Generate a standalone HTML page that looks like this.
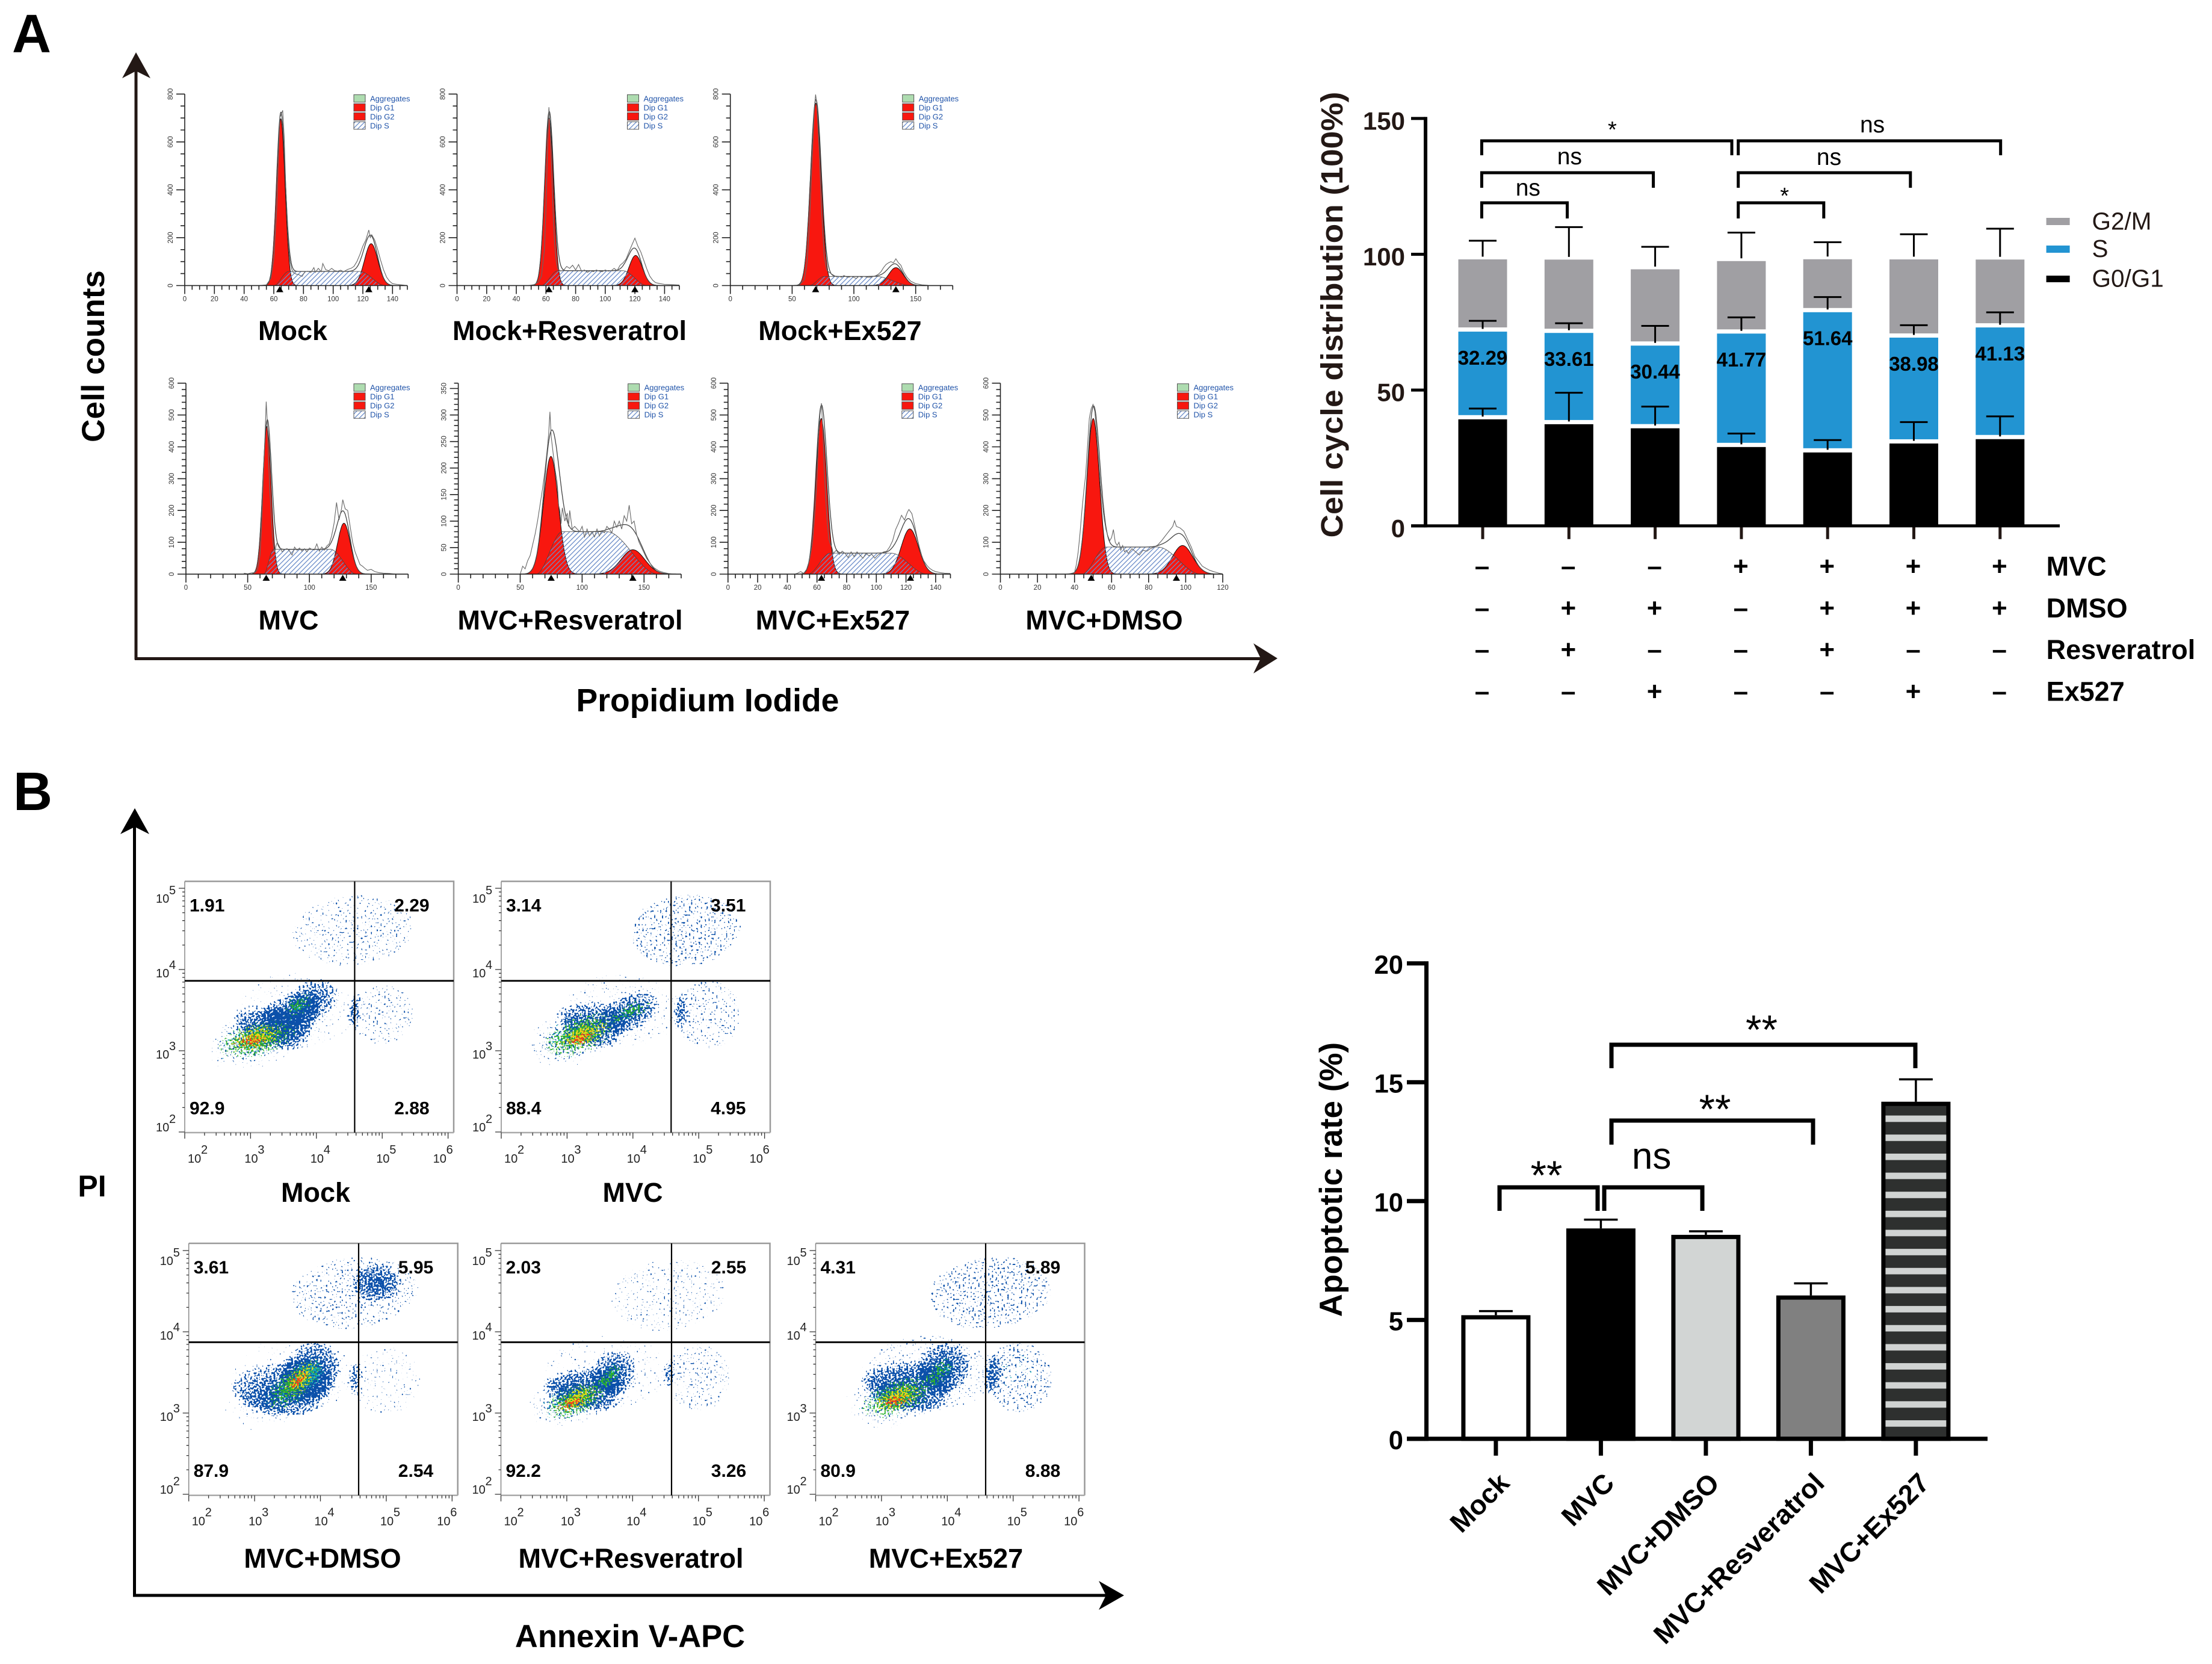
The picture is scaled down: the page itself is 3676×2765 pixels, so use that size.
<!DOCTYPE html>
<html lang="en">
<head>
<meta charset="utf-8">
<title>Cell cycle and apoptosis figure</title>
<style>
html,body{margin:0;padding:0;background:#fff}
svg{display:block;font-family:"Liberation Sans",sans-serif}
</style>
</head>
<body>
<svg id="figure" xmlns="http://www.w3.org/2000/svg" width="3676" height="2765" viewBox="0 0 3676 2765">
<defs>
  <pattern id="hatch" patternUnits="userSpaceOnUse" width="5.6" height="5.6" patternTransform="rotate(45)">
    <rect x="0" y="0" width="1.3" height="5.6" fill="#6a8cc8"/>
  </pattern>
  <pattern id="stripes" patternUnits="userSpaceOnUse" x="0" y="1853.6" width="20" height="31.65">
    <rect x="0" y="0" width="20" height="31.65" fill="#2e302f"/>
    <rect x="0" y="0" width="20" height="10.7" fill="#d0d3d2"/>
  </pattern>
  <radialGradient id="soft"><stop offset="0" stop-color="#000" stop-opacity="1"/><stop offset=".5" stop-color="#000" stop-opacity=".68"/><stop offset=".8" stop-color="#000" stop-opacity=".5"/><stop offset="1" stop-color="#000" stop-opacity="0"/></radialGradient>
  <radialGradient id="flat"><stop offset="0" stop-color="#000" stop-opacity="1"/><stop offset=".85" stop-color="#000" stop-opacity=".95"/><stop offset="1" stop-color="#000" stop-opacity="0"/></radialGradient>
  <filter id="speck-blue" x="-5%" y="-5%" width="110%" height="110%" color-interpolation-filters="sRGB">
    <feTurbulence type="fractalNoise" baseFrequency="0.31" numOctaves="1" seed="4" result="n"/>
    <feColorMatrix in="n" type="matrix" values="0 0 0 0 0 0 0 0 0 0 0 0 0 0 0 1 0 0 0 0" result="na"/>
    <feComposite in="SourceAlpha" in2="na" operator="arithmetic" k1="0" k2="1" k3="1" k4="-1" result="s"/>
    <feComponentTransfer in="s" result="m"><feFuncA type="linear" slope="20"/></feComponentTransfer>
    <feFlood flood-color="#0b50aa"/><feComposite in2="m" operator="in"/>
  </filter>
  <filter id="speck-cyan" x="-5%" y="-5%" width="110%" height="110%" color-interpolation-filters="sRGB">
    <feTurbulence type="fractalNoise" baseFrequency="0.33" numOctaves="1" seed="11" result="n"/>
    <feColorMatrix in="n" type="matrix" values="0 0 0 0 0 0 0 0 0 0 0 0 0 0 0 1 0 0 0 0" result="na"/>
    <feComposite in="SourceAlpha" in2="na" operator="arithmetic" k1="0" k2="1" k3="1" k4="-1" result="s"/>
    <feComponentTransfer in="s" result="m"><feFuncA type="linear" slope="20"/></feComponentTransfer>
    <feFlood flood-color="#14adb4"/><feComposite in2="m" operator="in"/>
  </filter>
  <filter id="speck-green" x="-5%" y="-5%" width="110%" height="110%" color-interpolation-filters="sRGB">
    <feTurbulence type="fractalNoise" baseFrequency="0.33" numOctaves="1" seed="23" result="n"/>
    <feColorMatrix in="n" type="matrix" values="0 0 0 0 0 0 0 0 0 0 0 0 0 0 0 1 0 0 0 0" result="na"/>
    <feComposite in="SourceAlpha" in2="na" operator="arithmetic" k1="0" k2="1" k3="1" k4="-1" result="s"/>
    <feComponentTransfer in="s" result="m"><feFuncA type="linear" slope="20"/></feComponentTransfer>
    <feFlood flood-color="#2cb22c"/><feComposite in2="m" operator="in"/>
  </filter>
  <filter id="speck-yellow" x="-5%" y="-5%" width="110%" height="110%" color-interpolation-filters="sRGB">
    <feTurbulence type="fractalNoise" baseFrequency="0.33" numOctaves="1" seed="37" result="n"/>
    <feColorMatrix in="n" type="matrix" values="0 0 0 0 0 0 0 0 0 0 0 0 0 0 0 1 0 0 0 0" result="na"/>
    <feComposite in="SourceAlpha" in2="na" operator="arithmetic" k1="0" k2="1" k3="1" k4="-1" result="s"/>
    <feComponentTransfer in="s" result="m"><feFuncA type="linear" slope="20"/></feComponentTransfer>
    <feFlood flood-color="#e6d818"/><feComposite in2="m" operator="in"/>
  </filter>
  <filter id="speck-red" x="-10%" y="-10%" width="120%" height="120%" color-interpolation-filters="sRGB">
    <feTurbulence type="fractalNoise" baseFrequency="0.33" numOctaves="1" seed="51" result="n"/>
    <feColorMatrix in="n" type="matrix" values="0 0 0 0 0 0 0 0 0 0 0 0 0 0 0 1 0 0 0 0" result="na"/>
    <feComposite in="SourceAlpha" in2="na" operator="arithmetic" k1="0" k2="1" k3="1" k4="-1" result="s"/>
    <feComponentTransfer in="s" result="m"><feFuncA type="linear" slope="20"/></feComponentTransfer>
    <feFlood flood-color="#f0401c"/><feComposite in2="m" operator="in"/>
  </filter>
</defs>

<rect x="0" y="0" width="3676" height="2765" fill="#fff"/>

<g id="static-labels" fill="#000" font-weight="700">
  <text x="20" y="87" font-size="90">A</text>
  <text x="22" y="1346" font-size="90">B</text>
  <text transform="translate(173 592) rotate(-90)" text-anchor="middle" font-size="53">Cell counts</text>
  <text x="1176" y="1182" text-anchor="middle" font-size="53.5">Propidium Iodide</text>
  <text x="153" y="1988" text-anchor="middle" font-size="50">PI</text>
  <text x="1047" y="2737" text-anchor="middle" font-size="52.5">Annexin V-APC</text>
  <g font-size="45" text-anchor="middle">
    <text x="486.5" y="565">Mock</text>
    <text x="946.5" y="565">Mock+Resveratrol</text>
    <text x="1396" y="565">Mock+Ex527</text>
    <text x="479.5" y="1046">MVC</text>
    <text x="947.5" y="1046">MVC+Resveratrol</text>
    <text x="1384" y="1046">MVC+Ex527</text>
    <text x="1835" y="1046">MVC+DMSO</text>
    <text x="524.5" y="1997">Mock</text>
    <text x="1051.5" y="1997">MVC</text>
    <text x="536" y="2605">MVC+DMSO</text>
    <text x="1048.5" y="2605">MVC+Resveratrol</text>
    <text x="1572" y="2605">MVC+Ex527</text>
  </g>
</g>

<g id="arrows" fill="#231815" stroke="none">
  <rect x="223.5" y="110" width="5" height="986"/>
  <path d="M226 87L250 130L226 118L203 130Z"/>
  <rect x="224" y="1092" width="1871" height="5"/>
  <path d="M2123 1094L2083 1069L2095 1094L2083 1119Z"/>
  <rect x="221" y="1373" width="5" height="1280" fill="#000"/>
  <path d="M224 1343L248 1386L224 1374L200 1386Z" fill="#000"/>
  <rect x="221" y="2648.5" width="1620" height="5" fill="#000"/>
  <path d="M1868 2651L1826 2627L1838 2651L1826 2675Z" fill="#000"/>
</g>

<g id="hist-root"></g>
<g id="flow-root"></g>
<g id="cycle-root">
  <text transform="translate(2231 523) rotate(-90)" text-anchor="middle" font-size="51" font-weight="700" fill="#231815" textLength="741" lengthAdjust="spacingAndGlyphs">Cell cycle distribution (100%)</text>
  <g fill="none" stroke="#000" stroke-width="5">
    <path d="M2462.4 258V234H2878V258"/>
    <path d="M2888.7 258V234H3324.7V258"/>
    <path d="M2462.4 312V287H2747.6V312"/>
    <path d="M2888.7 312V287H3174.8V312"/>
    <path d="M2462.4 363V337H2604.5V363"/>
    <path d="M2888.7 363V337H3030.8V363"/>
  </g>
  <g font-size="39" text-anchor="middle" fill="#000">
    <text x="2679.4" y="228" font-size="38">*</text>
    <text x="3111.6" y="220">ns</text>
    <text x="2608.4" y="273">ns</text>
    <text x="3039.5" y="274">ns</text>
    <text x="2539.3" y="325">ns</text>
    <text x="2965.6" y="338" font-size="38">*</text>
  </g>
  <g>
    <rect x="3400.6" y="362" width="39" height="12" fill="#a09fa3"/>
    <rect x="3400.6" y="408" width="39" height="12" fill="#2294d2"/>
    <rect x="3400.6" y="458" width="39" height="11" fill="#000"/>
    <g font-size="40.5" fill="#231815" dominant-baseline="central">
      <text x="3476.5" y="367.6">G2/M</text>
      <text x="3476.5" y="413">S</text>
      <text x="3476.5" y="462.6">G0/G1</text>
    </g>
  </g>
</g>
<g id="apop-root">
  <text transform="translate(2230 1960) rotate(-90)" text-anchor="middle" font-size="53" font-weight="700" fill="#000">Apoptotic rate (%)</text>
</g>
<g id="apop-annotations">
  <g fill="none" stroke="#000" stroke-width="7">
    <path d="M2678 1775V1736H3183V1775"/>
    <path d="M2678 1902V1862H3013V1902"/>
    <path d="M2492 2012V1973H2655V2012"/>
    <path d="M2666 2012V1973H2829V2012"/>
  </g>
  <g text-anchor="middle" fill="#000" font-size="68">
    <text x="2927.5" y="1734">**</text>
    <text x="2850" y="1866">**</text>
    <text x="2570" y="1976">**</text>
    <text x="2744.6" y="1942" font-size="62">ns</text>
  </g>
</g>
</svg>

<script>
// ---------- Panel A right: stacked bars ----------
const cycleGroups = ['Mock','Mock+Resveratrol','Mock+Ex527','MVC','MVC+Resveratrol','MVC+Ex527','MVC+DMSO'];
const g0g1Values = [40, 38.2, 36.7, 29.8, 27.8, 31.1, 32.7];
const sValues = [32.29, 33.61, 30.44, 41.77, 51.64, 38.98, 41.13];
const g2Values = [26.6, 27, 28.1, 26.7, 19.5, 28.8, 25];
const g0g1Err = [3.2, 10.8, 7.2, 4.2, 3.8, 7.1, 7.6];
const sErr = [3.2, 2.8, 6.5, 5.2, 4.8, 3.8, 4.8];
const g2Err = [6.1, 11.2, 7.5, 9.7, 5.5, 8.5, 10.6];
const cycleTicks = [0, 50, 100, 150];
const rowNames = ['MVC','DMSO','Resveratrol','Ex527'];
const rowMVC = ['–','–','–','+','+','+','+'];
const rowDMSO = ['–','+','+','–','+','+','+'];
const rowResveratrol = ['–','+','–','–','+','–','–'];
const rowEx527 = ['–','–','+','–','–','+','–'];

// ---------- Panel B right: apoptotic rate ----------
const apopCategories = ['Mock','MVC','MVC+DMSO','MVC+Resveratrol','MVC+Ex527'];
const apopValues = [5.2, 8.85, 8.58, 6.03, 14.18];
const apopErr = [0.17, 0.37, 0.15, 0.51, 0.94];
const apopTicks = [0, 5, 10, 15, 20];

// ---------- Panel A left: DNA histograms (read from the peaks) ----------
const histXMax = [150,150,180,180,180,150,120];
const histYMax = [800,800,800,600,360,600,600];
const histXLabelStep = [20,20,50,50,50,20,20];
const histXMinorStep = [5,5,10,10,10,5,5];
const histYLabelStep = [200,200,200,100,50,100,100];
const histYMinorStep = [50,50,50,20,10,20,20];
const g1Mean = [64.7,62.1,69.2,65.6,74.8,62.9,50.1];
const g1Height = [697,700,762,464,222,489,489];
const g1Sd = [2.9,3,4.3,3.4,6,3.7,3.4];
const g2Mean = [125.6,120.5,134,128,141,122.6,98.3];
const g2Height = [175,126,75,160,46,142,90];
const g2Sd = [4.5,4.5,6,5.2,9.5,5.8,5.5];
const sPlateau = [59,62,38,78,80,66,85];
const sRiseStart = [60,57,64,63,63,54,44];
const sRiseEnd = [70,68,76,71,84,69,57];
const sFallStart = [118,112,118,117,120,110,85];
const sFallEnd = [135,128,146,138,161,134,108];
const g1Marker = [64,62,69,65,75,63,49];
const g2Marker = [124,120,134,127,141,123,95];
const rawMock = [50,0,55,3,58,30,60,110,62,320,63,520,64,700,65,715,66,732,67,620,68,430,69,280,70,160,71,100,72,70,73,55,75,48,77,45,79,38,81,58,83,60,85,55,87,75,88,55,90,72,92,58,93,92,95,66,97,62,99,72,101,62,103,60,105,64,107,58,110,68,112,72,114,80,116,100,118,130,120,165,122,190,124,232,125,200,126,212,128,190,130,150,132,105,134,65,136,35,138,18,140,8,143,5,146,3,150,0];
const rawMockRes = [48,0,52,4,55,15,57,40,59,150,60,320,61,560,62,745,63,640,64,450,65,280,66,160,67,100,68,70,70,60,72,65,74,80,76,72,78,85,80,65,82,88,84,60,86,65,88,55,90,62,92,58,94,65,96,60,98,58,100,65,102,60,104,62,106,72,108,62,110,85,112,95,114,110,116,140,118,170,120,198,122,165,124,140,126,105,128,70,130,40,132,22,134,12,137,8,140,5,145,4,150,2];
const rawMockEx = [52,0,56,3,60,25,62,90,64,250,66,500,68,740,69,798,70,760,72,560,74,300,76,120,78,65,80,55,82,48,84,42,86,36,88,38,90,35,92,42,94,36,96,35,98,38,100,34,102,30,104,38,106,35,108,38,110,36,112,34,114,35,116,38,118,42,120,48,122,58,124,75,126,88,128,95,130,100,132,95,134,112,136,95,138,85,140,60,143,35,146,18,150,8,155,3,160,1];
const rawMVC = [47,3,50,1,53,4,56,5,58,15,60,60,61,130,62,230,63,340,64,430,65,542,66,470,67,350,68,260,69,190,70,120,71,85,72,70,73,90,74,100,76,85,78,70,80,78,82,80,84,72,86,60,88,85,90,75,92,82,94,72,96,80,98,70,100,82,102,78,104,76,106,95,108,72,110,85,112,75,114,88,116,95,118,120,120,160,122,225,124,170,126,205,127,234,129,205,131,200,133,150,135,100,137,70,139,50,141,30,143,25,145,18,147,12,150,15,153,8,156,5,160,3,165,2,170,0];
const rawMVCRes = [50,0,52,15,54,10,56,25,58,35,60,55,62,75,64,100,66,130,68,160,70,195,72,240,73,265,74,306,75,260,76,240,78,200,80,170,81,130,82,120,83,95,84,125,86,100,88,115,89,90,90,120,92,85,94,90,96,85,98,80,100,90,102,70,104,85,106,72,108,80,110,70,112,85,114,72,116,82,118,78,120,90,122,85,124,78,126,100,128,88,130,100,132,85,134,110,136,100,138,130,140,95,142,100,144,75,146,60,148,50,150,40,152,30,155,20,158,12,162,6,166,3,170,1,175,0];
const rawMVCEx = [45,0,47,3,49,8,51,2,53,15,55,45,57,100,59,220,60,300,61,420,62,500,63,537,64,450,65,320,66,230,67,160,68,110,69,95,70,85,71,65,73,75,75,62,77,72,79,65,81,52,83,70,85,55,87,70,89,60,91,50,93,65,95,58,97,62,99,50,101,60,103,65,105,70,107,72,109,85,111,105,113,140,115,160,117,185,119,170,121,195,122,203,124,190,126,150,128,105,130,65,132,42,134,28,136,18,138,12,140,8,143,5,146,3,150,2];
const rawMVCDmso = [36,0,38,2,40,5,41,30,42,70,43,130,44,200,45,260,46,310,47,400,48,490,49,520,50,533,51,510,52,440,53,360,54,280,55,220,56,175,57,140,58,120,59,105,60,115,61,140,62,100,63,90,64,100,65,75,66,90,67,70,68,75,69,65,71,80,73,70,75,60,77,75,79,72,81,80,83,85,85,92,87,105,89,120,91,135,93,150,94,168,95,150,97,145,99,135,101,110,103,85,105,55,107,40,109,25,111,18,113,12,115,8,118,3,120,1];
const legendEntries = ['Aggregates','Dip G1','Dip G2','Dip S'];

// ---------- Panel B left: flow plots (density regions in log10 units: x, y, rx, ry, tilt, level) ----------
const flowUL = ['1.91','3.14','3.61','2.03','4.31'];
const flowUR = ['2.29','3.51','5.95','2.55','5.89'];
const flowLL = ['92.9','88.4','87.9','92.2','80.9'];
const flowLR = ['2.88','4.95','2.54','3.26','8.88'];
const flowBlue = [
 [[3.05,3.13,.95,.42,-14,.54],[3.6,3.42,.5,.3,-25,.44],[3.95,3.62,.42,.26,-30,.44],[3.7,3.5,1.05,.52,0,.31],[5,3.45,.55,.42,0,.35],[4.55,4.48,1.05,.5,-6,.35]],
 [[3.1,3.17,.88,.42,-20,.54],[3.95,3.47,.5,.24,-25,.46],[3.85,3.5,1.05,.52,0,.31],[5.15,3.45,.55,.48,0,.36],[4.8,4.48,.95,.5,-6,.385]],
 [[3.3,3.2,.98,.45,-18,.48],[3.85,3.5,.55,.36,-50,.54],[3.6,3.45,1.1,.52,0,.3],[5,3.4,.6,.48,0,.32],[4.5,4.48,1.1,.5,-6,.37],[4.85,4.6,.4,.25,0,.42]],
 [[3.1,3.17,.85,.38,-15,.56],[3.72,3.5,.38,.28,-40,.46],[3.6,3.5,1.1,.5,0,.31],[5,3.45,.55,.48,0,.35],[4.55,4.45,1,.5,-6,.335]],
 [[3.2,3.2,.95,.44,-15,.53],[3.95,3.55,.45,.33,-40,.46],[3.75,3.5,1.15,.52,0,.34],[5.1,3.45,.55,.5,0,.39],[4.65,4.48,1.05,.5,-6,.39]]
];
const flowCyan = [
 [[3.05,3.13,.78,.3,-14,.5],[3.75,3.55,.38,.18,-30,.46]],
 [[3.1,3.17,.72,.3,-20,.5],[3.95,3.47,.4,.16,-25,.46]],
 [[3.55,3.3,.6,.28,-35,.5],[3.9,3.55,.36,.22,-50,.46]],
 [[3.1,3.15,.66,.28,-20,.5],[3.7,3.5,.3,.17,-40,.46]],
 [[3.2,3.2,.76,.3,-18,.5],[3.95,3.55,.34,.22,-40,.46],[5,3.5,.5,.3,0,.29]]
];
const flowGreen = [
 [[3.1,3.14,.74,.26,-14,.66],[3.72,3.56,.32,.15,-35,.58]],
 [[3.2,3.2,.72,.28,-22,.66],[4,3.5,.36,.13,-25,.58]],
 [[3.6,3.35,.62,.23,-40,.66]],
 [[3.15,3.17,.64,.24,-25,.66],[3.68,3.48,.24,.12,-45,.58]],
 [[3.25,3.2,.72,.26,-20,.66],[3.9,3.52,.28,.15,-45,.58]]
];
const flowYellow = [
 [[3.1,3.16,.56,.2,-14,.62]],
 [[3.25,3.2,.54,.2,-22,.62]],
 [[3.7,3.42,.48,.18,-45,.62]],
 [[3.15,3.17,.48,.18,-25,.62]],
 [[3.25,3.2,.56,.2,-20,.62]]
];
const flowRed = [
 [[3.02,3.12,.34,.11,-10,.6]],
 [[3.2,3.15,.32,.11,-20,.6]],
 [[3.65,3.4,.3,.1,-50,.6]],
 [[3.08,3.12,.3,.1,-20,.6]],
 [[3.2,3.15,.32,.11,-15,.6]]
];
const flowXDecades = [2,3,4,5,6];
const flowYDecades = [2,3,4,5];

// ---------- Layout (pixels, not data) ----------
const histLayout = [
 {left:307,   w:370,   base:474.5, top:156.3, legend:281},
 {left:759.5, w:369.5, base:474.5, top:156.3, legend:283},
 {left:1213.7,w:369.6, base:474.5, top:156.3, legend:286},
 {left:309,   w:369.3, base:954,   top:636.7, legend:279},
 {left:761.6, w:370.4, base:954,   top:636.7, legend:282},
 {left:1209.8,w:369.7, base:954,   top:636.7, legend:289},
 {left:1662.5,w:369.5, base:954,   top:636.7, legend:294}
];
const flowLayout = [
 {x0:307,    gate:589.4,  top:1464.5, bottom:1882,   hGate:1629.8, y100:1881},
 {x0:833,    gate:1115.3, top:1464.5, bottom:1882,   hGate:1629.8, y100:1881},
 {x0:313.7,  gate:596,    top:2066,   bottom:2484.7, hGate:2230.3, y100:2483},
 {x0:832.5,  gate:1116,   top:2066,   bottom:2484.7, hGate:2230.3, y100:2483},
 {x0:1355.5, gate:1638,   top:2066,   bottom:2484.7, hGate:2230.3, y100:2483}
];

const NS = 'http://www.w3.org/2000/svg';
function make(tag, attrs, parent) {
  const el = document.createElementNS(NS, tag);
  for (const k in attrs) el.setAttribute(k, attrs[k]);
  parent.appendChild(el);
  return el;
}
function write(parent, x, y, str, attrs) {
  const el = make('text', Object.assign({x: x, y: y}, attrs || {}), parent);
  el.textContent = str;
  return el;
}

// ===== Stacked bars =====
(function () {
  const root = document.getElementById('cycle-root');
  const yA = v => 873.8 - v * 4.513;
  const xA = i => 2464 + i * 143.3;
  const barW = 81, gap = 3.5;
  const axisTop = yA(cycleTicks[cycleTicks.length - 1]);
  const axisBase = yA(0);

  cycleGroups.forEach((group, i) => {
    const c1 = g0g1Values[i], c2 = c1 + sValues[i], c3 = c2 + g2Values[i];
    const x = xA(i) - barW / 2;
    const black = make('rect', {x: x, y: yA(c1) + gap, width: barW, height: axisBase - yA(c1) - gap, fill: '#000'}, root);
    
    
    const blue = make('rect', {x: x, y: yA(c2) + gap, width: barW, height: yA(c1) - yA(c2) - 2 * gap, fill: '#2294d2'}, root);
    
    
    const gray = make('rect', {x: x, y: yA(c3) + gap, width: barW, height: yA(c2) - yA(c3) - 2 * gap, fill: '#a09fa3'}, root);
    
    
  });
  cycleGroups.forEach((group, i) => {
    const c1 = g0g1Values[i], c2 = c1 + sValues[i], c3 = c2 + g2Values[i];
    const cx = xA(i);
    const stems = [[c1, g0g1Err[i]], [c2, sErr[i]], [c3, g2Err[i]]];
    stems.forEach(pair => {
      const yb = yA(pair[0]) - 1, yt = yA(pair[0] + pair[1]);
      const eb = make('path', {d: 'M' + cx + ' ' + yb + 'V' + yt + 'M' + (cx - 23) + ' ' + yt + 'H' + (cx + 23), fill: 'none', stroke: '#000', 'stroke-width': 3}, root);
      
      
    });
    const label = write(root, cx, yA(c2 - 10.4), sValues[i].toFixed(2), {'text-anchor': 'middle', 'dominant-baseline': 'central', 'font-size': 33, 'font-weight': 700, fill: '#000'});
    
    
    const xTick = make('rect', {x: cx - 2.5, y: axisBase, width: 5, height: 22, fill: '#231815'}, root);
    
    
  });
  const yLine = make('rect', {x: 2366, y: axisTop - 2.5, width: 6, height: axisBase - axisTop + 5, fill: '#000'}, root);
  
  
  const xLine = make('rect', {x: 2345, y: axisBase - 2.5, width: 1078, height: 5, fill: '#000'}, root);
  
  
  cycleTicks.forEach(t => {
    const tk = make('rect', {x: 2345, y: yA(t) - 2.5, width: 24, height: 5, fill: '#000'}, root);
    
    
    const lb = write(root, 2335, yA(t) + 4, String(t), {'text-anchor': 'end', 'dominant-baseline': 'central', 'font-size': 42, 'font-weight': 700, fill: '#231815'});
    
    
  });
  const rows = [rowMVC, rowDMSO, rowResveratrol, rowEx527];
  const rowY = r => 941 + r * 69.3;
  rows.forEach((row, r) => {
    row.forEach((sym, i) => {
      const s = write(root, xA(i) - 1, rowY(r), sym, {'text-anchor': 'middle', 'dominant-baseline': 'central', 'font-size': 44, 'font-weight': 700, fill: '#000'});
      
      
    });
    const nm = write(root, 3400.6, rowY(r), rowNames[r], {'dominant-baseline': 'central', 'font-size': 45, 'font-weight': 700, fill: '#000'});
    
    
  });
})();

// ===== Apoptotic rate bars =====
(function () {
  const root = document.getElementById('apop-root');
  const yB = v => 2390.8 - v * 39.5;
  const xB = i => 2485.9 + i * 174.5;
  const fills = ['#ffffff', '#000000', '#d2d5d4', '#808080', 'url(#stripes)'];
  const base = yB(0), topY = yB(apopTicks[apopTicks.length - 1]);
  apopValues.forEach((v, i) => {
    const cx = xB(i);
    const yt = yB(v);
    const capY = yB(v + apopErr[i]);
    const eb = make('path', {d: 'M' + cx + ' ' + yt + 'V' + capY + 'M' + (cx - 28) + ' ' + capY + 'H' + (cx + 28), fill: 'none', stroke: '#000', 'stroke-width': 3.5}, root);
    
    
    const bar = make('rect', {x: cx - 54, y: yt + 3.5, width: 108, height: base - yt - 3.5, fill: fills[i], stroke: '#000', 'stroke-width': 7}, root);
    
    
    const tk = make('rect', {x: cx - 3.5, y: base, width: 7, height: 28, fill: '#000'}, root);
    
    
    const lb = write(root, 0, 0, apopCategories[i], {transform: 'translate(' + (cx + 25) + ' 2467) rotate(-45)', 'text-anchor': 'end', 'font-size': 45.5, 'font-weight': 700, fill: '#000'});
    
    
  });
  const yLine = make('rect', {x: 2367, y: topY - 3.5, width: 7, height: base - topY + 7, fill: '#000'}, root);
  
  
  const xLine = make('rect', {x: 2338, y: base - 3.5, width: 965, height: 7, fill: '#000'}, root);
  
  
  apopTicks.forEach(t => {
    const tk = make('rect', {x: 2338, y: yB(t) - 3.5, width: 30, height: 7, fill: '#000'}, root);
    
    
    const lb = write(root, 2332, yB(t) + 3, String(t), {'text-anchor': 'end', 'dominant-baseline': 'central', 'font-size': 43.5, 'font-weight': 700, fill: '#000'});
    
    
  });
})();

// ===== Histograms =====
(function () {
  const root = document.getElementById('hist-root');
  const rawTraces = [rawMock, rawMockRes, rawMockEx, rawMVC, rawMVCRes, rawMVCEx, rawMVCDmso];
  const ramp = (x, a, b) => { const t = Math.max(0, Math.min(1, (x - a) / (b - a))); return t * t * (3 - 2 * t); };
  histLayout.forEach((L, p) => {
    const g = make('g', {}, root);
    
    
    const X = v => L.left + v / histXMax[p] * L.w;
    const Y = v => L.base - v * (L.base - L.top) / histYMax[p];
    const g1 = x => g1Height[p] * Math.exp(-0.5 * Math.pow((x - g1Mean[p]) / g1Sd[p], 2));
    const g2 = x => g2Height[p] * Math.exp(-0.5 * Math.pow((x - g2Mean[p]) / g2Sd[p], 2));
    const sp = x => sPlateau[p] * ramp(x, sRiseStart[p], sRiseEnd[p]) * (1 - ramp(x, sFallStart[p], sFallEnd[p]));
    const curve = (fn, closed) => {
      let d = '';
      for (let x = 0; x <= histXMax[p]; x += 0.25) d += (d ? 'L' : 'M') + X(x).toFixed(1) + ' ' + Y(fn(x)).toFixed(1);
      return closed ? d + 'L' + X(histXMax[p]) + ' ' + L.base + 'L' + X(0) + ' ' + L.base + 'Z' : d;
    };
    const redA = make('path', {d: curve(g1, true), fill: '#f8170f', stroke: '#111', 'stroke-width': 1}, g);
    
    
    const redB = make('path', {d: curve(g2, true), fill: '#f8170f', stroke: '#111', 'stroke-width': 1}, g);
    
    
    const sArea = make('path', {d: curve(sp, true), fill: 'url(#hatch)', stroke: '#444', 'stroke-width': 0.8}, g);
    
    
    const fit = make('path', {d: curve(x => g1(x) + g2(x) + sp(x), false), fill: 'none', stroke: '#444', 'stroke-width': 1.3}, g);
    
    
    const raw = rawTraces[p];
    let rd = '';
    for (let k = 0; k < raw.length; k += 2) rd += (k ? 'L' : 'M') + X(raw[k]).toFixed(1) + ' ' + Y(raw[k + 1]).toFixed(1);
    const rawLine = make('path', {d: rd, fill: 'none', stroke: '#666', 'stroke-width': 1.1}, g);
    
    

    // axes
    let ticks = 'M' + L.left + ' ' + L.top + 'V' + (L.base + 14) + 'M' + (L.left - 14) + ' ' + L.base + 'H' + (L.left + L.w);
    for (let v = 0; v <= histXMax[p]; v += histXMinorStep[p]) {
      const major = v % histXLabelStep[p] === 0;
      ticks += 'M' + X(v).toFixed(1) + ' ' + L.base + 'v' + (major ? 14 : 7);
    }
    for (let v = 0; v <= histYMax[p]; v += histYMinorStep[p]) {
      const major = v % histYLabelStep[p] === 0;
      ticks += 'M' + L.left + ' ' + Y(v).toFixed(1) + 'h' + (major ? -14 : -7);
    }
    const axes = make('path', {d: ticks, fill: 'none', stroke: '#222', 'stroke-width': 1.6}, g);
    
    
    for (let v = 0; v <= histXMax[p]; v += histXLabelStep[p]) {
      const t = write(g, X(v), L.base + 23, String(v), {'text-anchor': 'middle', 'dominant-baseline': 'central', 'font-size': 11.5, fill: '#333'});
      
      
    }
    for (let v = 0; v <= histYMax[p]; v += histYLabelStep[p]) {
      const t = write(g, 0, 0, String(v), {transform: 'translate(' + (L.left - 23) + ' ' + Y(v).toFixed(1) + ') rotate(-90)', 'text-anchor': 'middle', 'dominant-baseline': 'central', 'font-size': 11.5, fill: '#333'});
      
      
    }
    [g1Marker[p], g2Marker[p]].forEach(m => {
      const tri = make('path', {d: 'M' + X(m).toFixed(1) + ' ' + (L.base + 1) + 'l6 10h-12Z', fill: '#000'}, g);
      
      
    });
    // legend
    const lx = L.left + L.legend;
    const swatches = ['#aedcb0', '#f8170f', '#f8170f', 'url(#hatch)'];
    legendEntries.forEach((entry, k) => {
      const sy = L.top + 1 + k * 15;
      const sw = make('rect', {x: lx, y: sy, width: 19, height: 12.5, fill: swatches[k], stroke: '#555', 'stroke-width': 1}, g);
      
      
      const tx = write(g, lx + 27, sy + 6.5, entry, {'dominant-baseline': 'central', 'font-size': 13, fill: '#2255aa'});
      
      
    });
  });
})();

// ===== Flow plots =====
(function () {
  const root = document.getElementById('flow-root');
  const shift = [5, -10, -10, -10, -25];
  const yOff = [-7, 7, 7, 18];
  const layers = [[flowBlue, 'speck-blue'], [flowCyan, 'speck-cyan'], [flowGreen, 'speck-green'], [flowYellow, 'speck-yellow'], [flowRed, 'speck-red']];
  flowLayout.forEach((L, p) => {
    const g = make('g', {}, root);
    
    
    const X = v => L.x0 + (v - 2) * 109.4;
    const Y = v => L.y100 - (v - 2) * 135;
    const right = L.x0 + 447;
    layers.forEach(layer => {
      const lg = make('g', {filter: 'url(#' + layer[1] + ')'}, g);
      
      
      layer[0][p].forEach(b => {
        const cx = X(b[0]), cy = Y(b[1]);
        const e = make('ellipse', {cx: cx, cy: cy, rx: b[2] * 109.4, ry: b[3] * 135, transform: 'rotate(' + b[4] + ' ' + cx + ' ' + cy + ')', fill: b[5] < 0.4 ? 'url(#flat)' : 'url(#soft)', opacity: b[5]}, lg);
        
        
      });
    });
    const frame = make('path', {d: 'M' + L.x0 + ' ' + L.top + 'H' + right + 'V' + L.bottom, fill: 'none', stroke: '#9a9a9a', 'stroke-width': 2.5}, g);
    
    
    const base = make('path', {d: 'M' + L.x0 + ' ' + L.bottom + 'H' + right, fill: 'none', stroke: '#aaa', 'stroke-width': 2.5}, g);
    
    
    const left = make('path', {d: 'M' + L.x0 + ' ' + L.top + 'V' + L.bottom, fill: 'none', stroke: '#888', 'stroke-width': 1.5}, g);
    
    
    const gates = make('path', {d: 'M' + L.gate + ' ' + L.top + 'V' + L.bottom, fill: 'none', stroke: '#000', 'stroke-width': 2.2}, g);
    
    
    const gateH = make('path', {d: 'M' + L.x0 + ' ' + L.hGate + 'H' + right, fill: 'none', stroke: '#000', 'stroke-width': 2.8}, g);
    
    

    let ticks = '';
    flowXDecades.forEach((d, idx) => {
      ticks += 'M' + X(d).toFixed(1) + ' ' + L.bottom + 'v10';
      if (idx < flowXDecades.length - 1) for (let k = 2; k < 10; k++) ticks += 'M' + X(d + Math.log10(k)).toFixed(1) + ' ' + L.bottom + 'v5';
    });
    flowYDecades.forEach((d, idx) => {
      ticks += 'M' + L.x0 + ' ' + Y(d).toFixed(1) + 'h-10';
      if (idx < flowYDecades.length - 1) for (let k = 2; k < 10; k++) ticks += 'M' + L.x0 + ' ' + Y(d + Math.log10(k)).toFixed(1) + 'h-4';
    });
    const tk = make('path', {d: ticks, fill: 'none', stroke: '#333', 'stroke-width': 1.3}, g);
    
    

    flowXDecades.forEach((d, idx) => {
      const lx = X(d) + shift[idx];
      const a = write(g, lx, L.bottom + 44, '10', {'dominant-baseline': 'central', 'font-size': 20, fill: '#222'});
      
      
      const b = write(g, lx + 22, L.bottom + 29, String(d), {'dominant-baseline': 'central', 'font-size': 20, fill: '#222'});
      
      
    });
    flowYDecades.forEach((d, idx) => {
      const ly = Y(d) + yOff[idx];
      const a = write(g, L.x0 - 48, ly, '10', {'dominant-baseline': 'central', 'font-size': 20, fill: '#222'});
      
      
      const b = write(g, L.x0 - 26, ly - 14, String(d), {'dominant-baseline': 'central', 'font-size': 20, fill: '#222'});
      
      
    });
    const qa = {'dominant-baseline': 'central', 'font-size': 30, 'font-weight': 700, fill: '#000'};
    const qar = {'dominant-baseline': 'central', 'font-size': 30, 'font-weight': 700, fill: '#000', 'text-anchor': 'middle'};
    const ul = write(g, L.x0 + 8, L.top + 40.5, flowUL[p], qa);
    
    
    const ll = write(g, L.x0 + 8, L.bottom - 40, flowLL[p], qa);
    
    
    const ur = write(g, L.gate + 95, L.top + 40.5, flowUR[p], qar);
    
    
    const lr = write(g, L.gate + 95, L.bottom - 40, flowLR[p], qar);
    
    
  });
})();
</script>
</body>
</html>
